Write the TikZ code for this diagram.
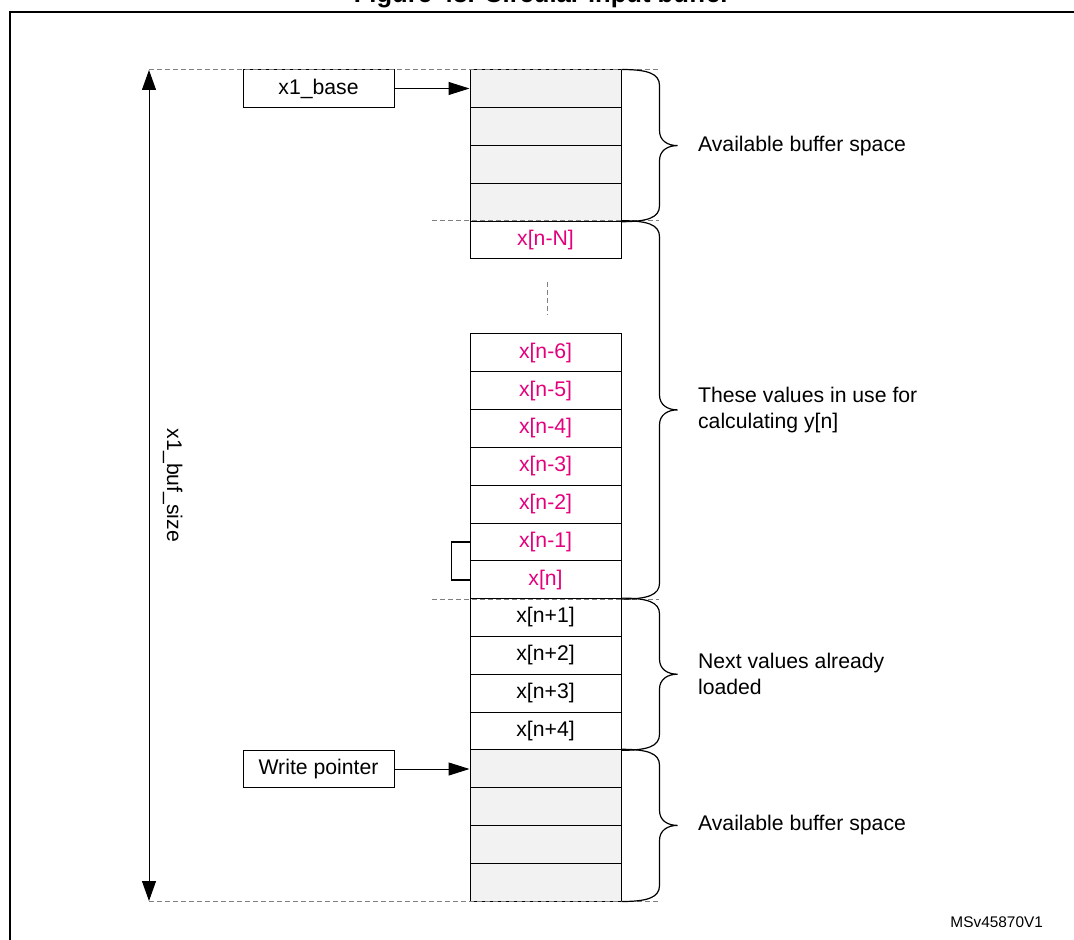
\documentclass[tikz,border=0pt]{standalone}
\usepackage{fontspec}
\setmainfont{Liberation Sans}
\usetikzlibrary{arrows.meta, positioning, calc}
\definecolor{cellgray}{HTML}{F2F2F2}
\definecolor{valpink}{HTML}{E4007C}

\tikzset{
  cell/.style={draw, line width=0.5pt, minimum width=75.5pt, minimum height=18.9pt, inner sep=0pt},
  freecell/.style={cell, fill=cellgray},
  oldval/.style={cell, text=valpink},
  guide/.style={draw=gray, line width=0.5pt, dash pattern=on 2.5pt off 1.5pt},
  ptr/.style={-{Triangle[length=10.5pt,width=6.5pt]}, line width=0.5pt},
  bracket/.style={line width=0.6pt},
  bracelabel/.style={right=10pt, align=left, inner sep=0pt}
}

% svorka vpravo od bufferu: horni kotva, dolni kotva, jmeno popisku, text
\newcommand{\sidebrace}[4]{%
  \draw[bracket] let \p1=(#1), \p2=(#2), \n1={0.5*\y1+0.5*\y2} in
    (\p1) .. controls +(26,0) and +(0,-12) .. (\x1+19pt,\y1-8pt)
    -- (\x1+19pt,\n1+7.5pt)
    .. controls +(0,10) and +(-10,0) .. (\x1+28pt,\n1)
      node[bracelabel] (#3) {#4}
    .. controls +(-10,0) and +(0,-10) .. (\x1+19pt,\n1-7.5pt)
    -- (\x1+19pt,\y2+8pt)
    .. controls +(0,12) and +(26,0) .. (\p2);
}

\begin{document}
\begin{tikzpicture}[x=0.5pt, y=-0.5pt, font=\fontsize{10.6}{13}\selectfont]
  \useasboundingbox (0,0) rectangle (1074,940);

  % Titulek a ramecek
  \node[font=\fontsize{12.8}{15}\selectfont\bfseries, anchor=base] (title) at (542,3) {Figure 43. Circular input buffer};
  \draw[line width=1pt] (10,12) rectangle (1090,960);

  % Bunky bufferu
  \foreach \i in {1,...,4}
    \node[freecell] (top\i) at (545.5,{70+37.8*(\i-0.5)}) {};
  \node[oldval] (oldN) at (545.5,{70+37.8*4.5}) {x[n-N]};
  \foreach \lab [count=\i] in {x[n-6],x[n-5],x[n-4],x[n-3],x[n-2],x[n-1],x[n]}
    \node[oldval] (old\i) at (545.5,{334+37.8*(\i-0.5)}) {\lab};
  \foreach \lab [count=\i] in {x[n+1],x[n+2],x[n+3],x[n+4]}
    \node[cell] (new\i) at (545.5,{334+37.8*(\i+6.5)}) {\lab};
  \foreach \i in {1,...,4}
    \node[freecell] (low\i) at (545.5,{334+37.8*(\i+10.5)}) {};

  % Ukazatele
  \node[cell] (base) at (318.5,88.5) {x1\_base};
  \node[cell] (wptr) at (318.5,769) {Write pointer};
  \draw[ptr] (base.east) -- (base.east -| top1.west);
  \draw[ptr] (wptr.east) -- (wptr.east -| low1.west);

  % Velikost bufferu
  \coordinate (sizetop) at (149,70);
  \coordinate (sizebot) at (149,901);
  \draw[{Triangle[length=10pt,width=7pt]}-{Triangle[length=10pt,width=7pt]}, line width=0.5pt] (sizetop) -- (sizebot);
  \node[rotate=-90, anchor=base] (sizelab) at (167,485.5) {x1\_buf\_size};

  % Vodici carkovane cary
  \draw[guide] (sizetop) -- (659,70);
  \draw[guide] (sizebot) -- (659,901);
  \draw[guide] (432,221) -- (659,221);
  \draw[guide] (432,599) -- (659,599);
  \draw[guide] ($(oldN.south)+(1.5,23)$) -- ($(old1.north)+(1.5,-18)$);

  % Zavorka x[n-1], x[n]
  \draw[line width=0.8pt] (old6.west) -- ++(-18,0) |- (old7.west);

  % Svorky s popisky
  \sidebrace{top1.north east}{top4.south east}{freelab}{Available buffer space}
  \sidebrace{oldN.north east}{old7.south east}{uselab}{These values in use for\\calculating y[n]}
  \sidebrace{new1.north east}{new4.south east}{nextlab}{Next values already\\loaded}
  \sidebrace{low1.north east}{low4.south east}{freelab2}{Available buffer space}

  \node[font=\fontsize{7.7}{9}\selectfont, anchor=base east] (docid) at (1050,927) {MSv45870V1};
\end{tikzpicture}
\end{document}
